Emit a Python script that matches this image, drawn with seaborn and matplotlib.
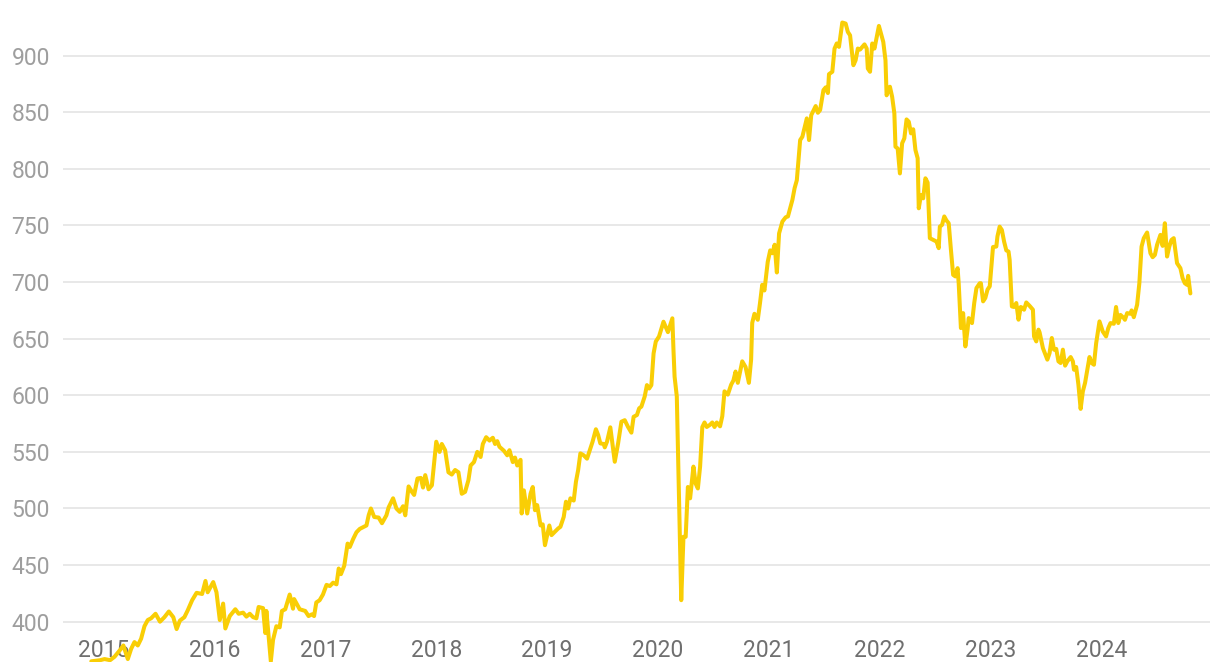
import numpy as np
import pandas as pd
import matplotlib
matplotlib.use("Agg")
import matplotlib.pyplot as plt
import matplotlib.dates as mdates
import seaborn as sns

# Index level, position given as decimal year
pos_2015 = [2014.89, 2014.97, 2015.01, 2015.06, 2015.10, 2015.15, 2015.18, 2015.22, 2015.25, 2015.28,
            2015.31, 2015.34, 2015.37, 2015.40, 2015.43, 2015.47, 2015.51, 2015.55, 2015.59, 2015.63,
            2015.66, 2015.69, 2015.73, 2015.76, 2015.80, 2015.84, 2015.89, 2015.92, 2015.94, 2015.99]
val_2015 = [365, 366, 367, 366, 369, 375, 379, 367, 376, 382,
            379, 385, 396, 401.5, 403, 407, 400, 404, 409, 404,
            393.5, 401, 404, 410, 419, 425.5, 424.5, 436, 426, 435]

pos_2016 = [2016.02, 2016.05, 2016.08, 2016.10, 2016.14, 2016.19, 2016.22, 2016.26, 2016.29, 2016.32,
            2016.35, 2016.38, 2016.40, 2016.44, 2016.46, 2016.47, 2016.51, 2016.53, 2016.56, 2016.59,
            2016.61, 2016.64, 2016.68, 2016.71, 2016.72, 2016.77, 2016.82, 2016.85, 2016.88, 2016.90,
            2016.92, 2016.95, 2016.98]
val_2016 = [426, 401.5, 416, 394, 405, 411, 407, 408, 404.5, 407,
            404, 403, 413, 412, 390, 409.5, 365, 384, 396, 395,
            409.5, 411, 424, 411.5, 420, 411, 409.5, 405, 406.5, 405,
            417, 419, 424]

pos_2017 = [2017.01, 2017.04, 2017.07, 2017.10, 2017.12, 2017.14, 2017.17, 2017.20, 2017.22, 2017.25,
            2017.28, 2017.31, 2017.34, 2017.37, 2017.39, 2017.41, 2017.44, 2017.48, 2017.51, 2017.55,
            2017.57, 2017.61, 2017.64, 2017.67, 2017.70, 2017.72, 2017.75, 2017.78, 2017.80, 2017.83,
            2017.86, 2017.88, 2017.90, 2017.93, 2017.96]
val_2017 = [432.5, 431.5, 434.5, 433, 447, 442, 449.5, 469, 466, 473,
            479, 482, 483.5, 485, 494, 500, 492.5, 492, 487, 494,
            501, 509, 500, 497, 502, 494, 519.5, 514.7, 512, 526.5,
            527, 518.5, 529.5, 517, 520.5]

pos_2018 = [2018.00, 2018.03, 2018.05, 2018.08, 2018.11, 2018.14, 2018.17, 2018.20, 2018.23, 2018.26,
            2018.29, 2018.31, 2018.34, 2018.37, 2018.40, 2018.42, 2018.45, 2018.48, 2018.51, 2018.53,
            2018.55, 2018.57, 2018.61, 2018.64, 2018.66, 2018.69, 2018.71, 2018.73, 2018.76, 2018.77,
            2018.79, 2018.82, 2018.85, 2018.87, 2018.89, 2018.91, 2018.94, 2018.96, 2018.98]
val_2018 = [559, 550, 557, 551.5, 532, 530, 534, 532, 513, 514.7,
            525, 538, 541, 550, 545.5, 557, 563, 560, 562.5, 557,
            559.5, 554.5, 551, 547, 551.5, 541, 545, 538, 543, 495.6,
            516, 495.6, 513, 519, 498.5, 503, 485, 486, 467.6]

pos_2019 = [2019.02, 2019.04, 2019.07, 2019.10, 2019.12, 2019.15, 2019.17, 2019.19, 2019.21, 2019.24,
            2019.26, 2019.28, 2019.30, 2019.33, 2019.36, 2019.39, 2019.41, 2019.44, 2019.46, 2019.48,
            2019.51, 2019.52, 2019.54, 2019.57, 2019.61, 2019.64, 2019.67, 2019.70, 2019.73, 2019.76,
            2019.78, 2019.81, 2019.83, 2019.85, 2019.88, 2019.90, 2019.92, 2019.94, 2019.96, 2019.98]
val_2019 = [485, 476.5, 479.4, 482.4, 483.8, 492.6, 506, 500, 509, 507,
            523.6, 534, 548.7, 547, 544, 553, 559, 570, 565, 557.5,
            557, 554, 559, 571.7, 541.3, 557.5, 576.7, 578, 572, 567,
            581, 582.6, 588.5, 590, 599, 609, 606, 609, 637, 647.5]

pos_2020 = [2020.01, 2020.05, 2020.09, 2020.13, 2020.14, 2020.15, 2020.17, 2020.21, 2020.23, 2020.25,
            2020.27, 2020.29, 2020.32, 2020.34, 2020.36, 2020.38, 2020.40, 2020.42, 2020.44, 2020.47,
            2020.49, 2020.51, 2020.53, 2020.56, 2020.58, 2020.60, 2020.63, 2020.66, 2020.68, 2020.70,
            2020.72, 2020.76, 2020.79, 2020.82, 2020.84, 2020.85, 2020.87, 2020.90, 2020.92, 2020.94,
            2020.96, 2020.99]
val_2020 = [652, 665, 655.8, 668, 640, 616.5, 599, 419, 475, 475,
            519, 509, 537, 522, 517.7, 537, 572, 576, 572, 574,
            576, 572, 576, 572.6, 581.5, 603.5, 600.6, 609.4, 613, 621,
            611, 630, 625, 611, 631.5, 664, 672, 666.7, 681.4, 697.6,
            692.6, 718]

pos_2021 = [2021.01, 2021.03, 2021.05, 2021.07, 2021.09, 2021.12, 2021.15, 2021.17, 2021.21, 2021.23,
            2021.25, 2021.28, 2021.30, 2021.34, 2021.36, 2021.38, 2021.42, 2021.44, 2021.46, 2021.49,
            2021.51, 2021.53, 2021.54, 2021.57, 2021.59, 2021.61, 2021.63, 2021.66, 2021.69, 2021.71,
            2021.73, 2021.76, 2021.78, 2021.80, 2021.82, 2021.86, 2021.88, 2021.89, 2021.91, 2021.93,
            2021.95, 2021.99]
val_2021 = [728, 725.5, 733, 708.5, 743, 753.5, 757.3, 758, 772.6, 783,
            790, 825.5, 828.4, 844.6, 825.5, 847.5, 855.5, 849.6, 852, 869.6,
            872, 867, 883.7, 885.8, 906.3, 910.8, 907.8, 929.3, 928.4, 921,
            918, 891.6, 896, 906.3, 905.4, 910, 906.3, 888.7, 885.8, 910.8,
            906.3, 926.3]

pos_2022 = [2022.03, 2022.05, 2022.06, 2022.09, 2022.11, 2022.13, 2022.14, 2022.16, 2022.18, 2022.20,
            2022.22, 2022.24, 2022.26, 2022.28, 2022.30, 2022.32, 2022.34, 2022.35, 2022.37, 2022.39,
            2022.41, 2022.43, 2022.45, 2022.48, 2022.51, 2022.53, 2022.54, 2022.56, 2022.58, 2022.60,
            2022.62, 2022.64, 2022.66, 2022.68, 2022.70, 2022.71, 2022.73, 2022.75, 2022.77, 2022.79,
            2022.80, 2022.83, 2022.85, 2022.87, 2022.90, 2022.91, 2022.93, 2022.95, 2022.97, 2022.99]
val_2022 = [912.2, 896, 865, 872.6, 863.7, 849, 819.6, 818, 796, 822.6,
            827, 843.7, 841.7, 831.4, 835, 816.7, 809.4, 765.2, 777, 774,
            791.7, 787.9, 738.8, 737.3, 735.8, 730, 749, 750.5, 758, 754.4,
            752, 728.5, 706.4, 705, 712.3, 699, 659.4, 672.6, 643.2, 658,
            668.2, 663.8, 681.5, 694.7, 699, 699, 683, 686, 693.4, 696.3]

pos_2023 = [2023.01, 2023.02, 2023.05, 2023.06, 2023.08, 2023.10, 2023.12, 2023.14, 2023.16, 2023.17,
            2023.19, 2023.21, 2023.23, 2023.25, 2023.27, 2023.29, 2023.30, 2023.32, 2023.35, 2023.38,
            2023.39, 2023.41, 2023.43, 2023.44, 2023.47, 2023.51, 2023.53, 2023.55, 2023.57, 2023.59,
            2023.61, 2023.63, 2023.65, 2023.67, 2023.69, 2023.72, 2023.74, 2023.75, 2023.77, 2023.79,
            2023.81, 2023.83, 2023.85, 2023.87, 2023.89, 2023.91, 2023.93, 2023.95, 2023.98]
val_2023 = [719.7, 731, 731.4, 740.3, 749, 746, 735.8, 728, 727, 719.7,
            678.5, 678, 681.5, 666.8, 678, 677, 675.6, 682, 679, 675.6,
            652, 647.6, 658, 655.6, 641.7, 631.5, 637.3, 650.6, 640.3, 641,
            630, 628.5, 640.3, 626.2, 630, 633.8, 630, 622.6, 625, 609.4,
            588, 603.5, 611, 622.6, 633.8, 628.5, 627, 646, 665.3]

pos_2024 = [2024.01, 2024.04, 2024.06, 2024.08, 2024.11, 2024.13, 2024.15, 2024.17, 2024.20, 2024.21,
            2024.23, 2024.26, 2024.27, 2024.29, 2024.32, 2024.34, 2024.36, 2024.38, 2024.41, 2024.44,
            2024.46, 2024.48, 2024.50, 2024.53, 2024.55, 2024.57, 2024.59, 2024.61, 2024.63, 2024.65,
            2024.68, 2024.71, 2024.73, 2024.75, 2024.77, 2024.78, 2024.80]
val_2024 = [656.4, 652, 659.4, 663.8, 663.2, 678, 663.8, 671, 668.2, 666.7,
            672.6, 672, 675, 669, 680, 699, 731.4, 738.8, 743.8, 725.5,
            722, 724, 733, 741.7, 732, 752, 722.6, 731.4, 737.3, 738.8,
            716.7, 712.3, 703.5, 699, 697.6, 705.5, 690]

y_ticks = [400, 450, 500, 550, 600, 650, 700, 750, 800, 850, 900]

LINE_COLOR = "#F9CE05"
GRID_COLOR = "#e4e4e4"


def to_date(y):
    year = int(np.floor(y))
    return pd.Timestamp(year=year, month=1, day=1) + pd.Timedelta(days=(y - year) * 365.25)


positions = (pos_2015 + pos_2016 + pos_2017 + pos_2018 + pos_2019 +
             pos_2020 + pos_2021 + pos_2022 + pos_2023 + pos_2024)
values = (val_2015 + val_2016 + val_2017 + val_2018 + val_2019 +
          val_2020 + val_2021 + val_2022 + val_2023 + val_2024)

df = pd.DataFrame({"date": [to_date(p) for p in positions], "value": values})

sns.set_style("white")
plt.rcParams["font.family"] = ["Roboto", "DejaVu Sans"]

fig = plt.figure(figsize=(12.2, 6.72), dpi=100)
ax = fig.add_axes([63 / 1220, 10 / 672, (1210 - 63) / 1220, 662 / 672])

sns.lineplot(data=df, x="date", y="value", ax=ax, color=LINE_COLOR, linewidth=2.9,
             estimator=None, sort=False, solid_joinstyle="round", solid_capstyle="round")

ax.set_xlim(to_date(2014.635), to_date(2024.977))
ax.set_ylim(364.4, 949.2)
ax.set_yticks(y_ticks)
ax.xaxis.set_major_locator(mdates.YearLocator())
ax.xaxis.set_major_formatter(mdates.DateFormatter("%Y"))

ax.set_axisbelow(True)
ax.yaxis.grid(True, color=GRID_COLOR, linewidth=1.2)
ax.xaxis.grid(False)
for s in ax.spines.values():
    s.set_visible(False)

ax.tick_params(axis="y", length=0, pad=9.4, labelsize=16.5, labelcolor="#9e9e9e")
ax.tick_params(axis="x", length=0, pad=-16.5, labelsize=16.5, labelcolor="#6f6f6f")
ax.set_xlabel("")
ax.set_ylabel("")

fig.savefig("out.png", dpi=100)
